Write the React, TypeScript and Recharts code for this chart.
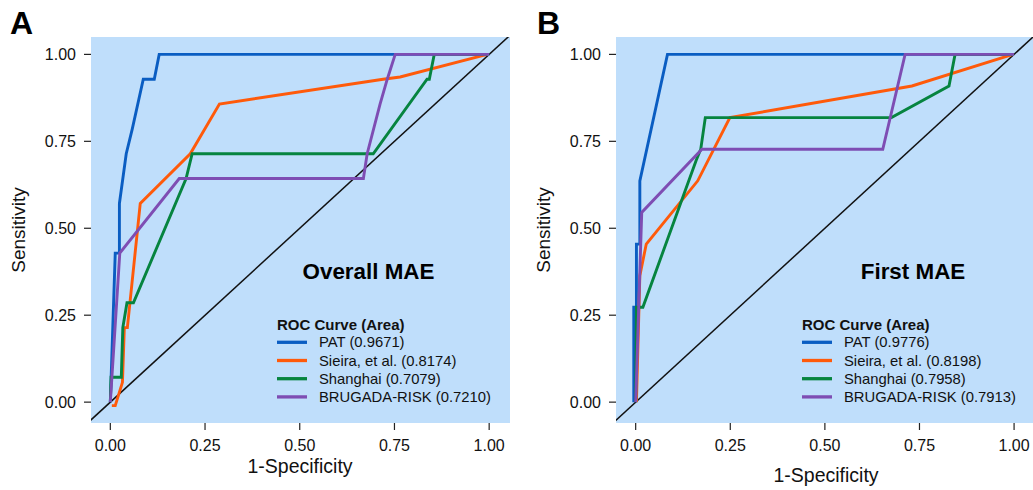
import { LineChart, Line, XAxis, YAxis, CartesianGrid } from 'recharts';

// Panel A: Overall MAE
const patA = [
  { x: 0, y: 0 }, { x: 0.013, y: 0.4286 }, { x: 0.024, y: 0.4286 }, { x: 0.024, y: 0.5714 },
  { x: 0.042, y: 0.7143 }, { x: 0.058, y: 0.7857 }, { x: 0.087, y: 0.9286 }, { x: 0.116, y: 0.9286 },
  { x: 0.129, y: 1 }, { x: 1, y: 1 },
];
const sieiraA = [
  { x: 0.004, y: -0.01 }, { x: 0.013, y: -0.01 }, { x: 0.032, y: 0.057 }, { x: 0.037, y: 0.2143 },
  { x: 0.045, y: 0.2143 }, { x: 0.079, y: 0.5714 }, { x: 0.211, y: 0.7143 }, { x: 0.288, y: 0.8571 },
  { x: 0.72, y: 0.9286 }, { x: 0.765, y: 0.935 }, { x: 0.995, y: 1 },
];
const shanghaiA = [
  { x: 0, y: 0 }, { x: 0.002, y: 0.0714 }, { x: 0.029, y: 0.0714 }, { x: 0.033, y: 0.2143 },
  { x: 0.044, y: 0.2857 }, { x: 0.061, y: 0.2857 }, { x: 0.2, y: 0.6429 }, { x: 0.216, y: 0.7143 },
  { x: 0.694, y: 0.7143 }, { x: 0.836, y: 0.9286 }, { x: 0.842, y: 0.9286 }, { x: 0.855, y: 1 },
  { x: 1, y: 1 },
];
const brugadaA = [
  { x: 0, y: 0 }, { x: 0.025, y: 0.4286 }, { x: 0.182, y: 0.6429 }, { x: 0.668, y: 0.6429 },
  { x: 0.678, y: 0.7143 }, { x: 0.712, y: 0.8571 }, { x: 0.731, y: 0.9286 }, { x: 0.752, y: 1 },
  { x: 1, y: 1 },
];

// Panel B: First MAE
const patB = [
  { x: -0.005, y: 0 }, { x: -0.005, y: 0.2727 }, { x: 0.002, y: 0.2727 }, { x: 0.002, y: 0.4545 },
  { x: 0.011, y: 0.4545 }, { x: 0.011, y: 0.6364 }, { x: 0.084, y: 1 }, { x: 0.994, y: 1 },
];
const sieiraB = [
  { x: 0.002, y: 0 }, { x: 0.011, y: 0.3636 }, { x: 0.028, y: 0.4545 }, { x: 0.164, y: 0.6364 },
  { x: 0.249, y: 0.8182 }, { x: 0.73, y: 0.9091 }, { x: 0.997, y: 1 },
];
const shanghaiB = [
  { x: 0, y: 0 }, { x: 0.002, y: 0.2727 }, { x: 0.019, y: 0.2727 }, { x: 0.16, y: 0.6957 },
  { x: 0.172, y: 0.7273 }, { x: 0.184, y: 0.8182 }, { x: 0.676, y: 0.8182 }, { x: 0.828, y: 0.9091 },
  { x: 0.844, y: 1 }, { x: 1, y: 1 },
];
const brugadaB = [
  { x: 0, y: 0 }, { x: 0.016, y: 0.5455 }, { x: 0.175, y: 0.7273 }, { x: 0.653, y: 0.7273 },
  { x: 0.712, y: 1 }, { x: 1, y: 1 },
];

const diagonal = [{ x: -0.2, y: -0.2 }, { x: 1.2, y: 1.2 }];
const ticks = [0, 0.25, 0.5, 0.75, 1];

const legendA = ['PAT (0.9671)', 'Sieira, et al. (0.8174)', 'Shanghai (0.7079)', 'BRUGADA-RISK (0.7210)'];
const legendB = ['PAT (0.9776)', 'Sieira, et al. (0.8198)', 'Shanghai (0.7958)', 'BRUGADA-RISK (0.7913)'];

const COLORS = ['#0A5DC2', '#FF5A0A', '#06843F', '#7E4DB3'];
const BG = '#BFDEFB';
const FONT = '"Liberation Sans", Arial, sans-serif';

interface PanelProps {
  series: { x: number; y: number }[][];
  xDomain: [number, number];
  width: number;
  left: number;
  right: number;
}

function Panel({ series, xDomain, width, left, right }: PanelProps) {
  const tickStyle = { fontSize: 16, fill: '#111', fontFamily: FONT };
  return (
    <div style={{ position: 'absolute', left, top: 0 }}>
      <LineChart width={width} height={490} margin={{ top: 37, right, bottom: 0, left: 0 }}>
        <CartesianGrid fill={BG} fillOpacity={1} stroke="none" horizontal={false} vertical={false} />
        <XAxis
          type="number"
          dataKey="x"
          domain={xDomain}
          allowDataOverflow
          ticks={ticks}
          tickFormatter={(v: number) => v.toFixed(2)}
          axisLine={false}
          tickLine={{ stroke: '#222', strokeWidth: 1.2 }}
          tickSize={7}
          tickMargin={10}
          height={67}
          tick={tickStyle}
        />
        <YAxis
          type="number"
          domain={[-0.06, 1.05]}
          allowDataOverflow
          ticks={ticks}
          tickFormatter={(v: number) => v.toFixed(2)}
          axisLine={false}
          tickLine={{ stroke: '#222', strokeWidth: 1.2 }}
          tickSize={7}
          tickMargin={8}
          width={91}
          tick={tickStyle}
        />
        <Line data={diagonal} dataKey="y" stroke="#111" strokeWidth={1.5} dot={false} activeDot={false} isAnimationActive={false} />
        {series.map((s, i) => (
          <Line
            key={i}
            data={s}
            dataKey="y"
            stroke={COLORS[i]}
            strokeWidth={2.9}
            dot={false}
            activeDot={false}
            isAnimationActive={false}
          />
        ))}
      </LineChart>
    </div>
  );
}

function Annotations() {
  const legend = (x: number, names: string[]) => (
    <g>
      <text x={x} y={330} fontSize={15} fontWeight="bold" fill="#111">ROC Curve (Area)</text>
      {names.map((n, i) => (
        <g key={n}>
          <line x1={x} x2={x + 30} y1={342.3 + i * 18.2} y2={342.3 + i * 18.2} stroke={COLORS[i]} strokeWidth={3.3} />
          <text x={x + 42} y={347.3 + i * 18.2} fontSize={14.8} fill="#111">{n}</text>
        </g>
      ))}
    </g>
  );
  return (
    <svg width={1033} height={490} style={{ position: 'absolute', left: 0, top: 0, pointerEvents: 'none', fontFamily: FONT }}>
      <text x={10} y={34} fontSize={32} fontWeight="bold" fill="#000">A</text>
      <text x={537} y={34} fontSize={32} fontWeight="bold" fill="#000">B</text>
      <text x={368.5} y={278.5} fontSize={22.4} fontWeight="bold" textAnchor="middle" fill="#000">Overall MAE</text>
      <text x={913} y={278.5} fontSize={22.4} fontWeight="bold" textAnchor="middle" fill="#000">First MAE</text>
      {legend(277, legendA)}
      {legend(802, legendB)}
      <text transform="translate(25,230) rotate(-90)" fontSize={19} textAnchor="middle" fill="#111">Sensitivity</text>
      <text transform="translate(550,230) rotate(-90)" fontSize={19} textAnchor="middle" fill="#111">Sensitivity</text>
      <text x={300} y={473} fontSize={19.5} textAnchor="middle" fill="#111">1-Specificity</text>
      <text x={826} y={482} fontSize={19.5} textAnchor="middle" fill="#111">1-Specificity</text>
    </svg>
  );
}

export default function App() {
  return (
    <div style={{ position: 'absolute', left: 0, top: 0, width: 1033, height: 490, background: '#fff', fontFamily: FONT, overflow: 'hidden' }}>
      <Panel series={[patA, sieiraA, shanghaiA, brugadaA]} xDomain={[-0.051, 1.055]} width={515} left={0} right={5} />
      <Panel series={[patB, sieiraB, shanghaiB, brugadaB]} xDomain={[-0.052, 1.05]} width={508} left={525} right={0} />
      <Annotations />
    </div>
  );
}
